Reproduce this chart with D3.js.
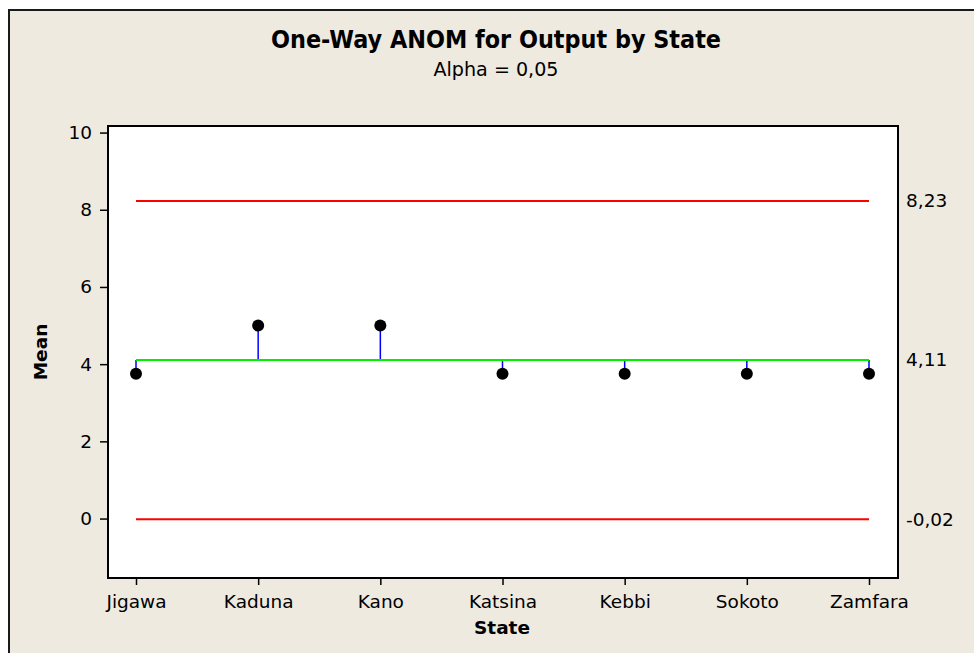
<!DOCTYPE html>
<html>
<head>
<meta charset="utf-8">
<script src="https://cdn.jsdelivr.net/npm/d3@7"></script>
<style>
  html, body { margin: 0; padding: 0; background: #fff; }
  text { font-family: "DejaVu Sans", Verdana, sans-serif; fill: #000; }
</style>
</head>
<body>
<div id="chart"></div>
<script>
const width = 974,
  height = 653;

// data
const states = ['Jigawa', 'Kaduna', 'Kano', 'Katsina', 'Kebbi', 'Sokoto', 'Zamfara'];
const means = [3.75, 5.0, 5.0, 3.75, 3.75, 3.75, 3.75];
const limitValues = [8.23, 4.11, -0.02]; // upper decision limit, centre, lower decision limit
const limitLabels = ['8,23', '4,11', '-0,02'];
const yTicks = [0, 2, 4, 6, 8, 10];

const plot = { left: 108, right: 898, top: 126, bottom: 578 };

const svg = d3
  .select('#chart')
  .append('svg')
  .attr('width', width)
  .attr('height', height);

// outer frame
svg
  .append('rect')
  .attr('x', 9)
  .attr('y', 10)
  .attr('width', width + 20)
  .attr('height', height + 20)
  .attr('fill', '#eeeae0')
  .attr('stroke', '#1a1a1a')
  .attr('stroke-width', 2);

svg
  .append('rect')
  .attr('x', plot.left)
  .attr('y', plot.top)
  .attr('width', plot.right - plot.left)
  .attr('height', plot.bottom - plot.top)
  .attr('fill', '#fff');

const x = d3
  .scalePoint()
  .domain(states)
  .range([136, 869]);

const y = d3
  .scaleLinear()
  .domain([-1.54, 10.17])
  .range([plot.bottom, plot.top]);

const center = limitValues[1];
const lineColor = ['#ff0000', '#00f000', '#ff0000'];

// blue stems from centre line to each mean
svg
  .append('g')
  .selectAll('line')
  .data(means)
  .join('line')
  .attr('x1', (d, i) => x(states[i]))
  .attr('x2', (d, i) => x(states[i]))
  .attr('y1', y(center))
  .attr('y2', d => y(d))
  .attr('stroke', '#0000ff')
  .attr('stroke-width', 1.5);

// limit lines
svg
  .append('g')
  .selectAll('line')
  .data(limitValues)
  .join('line')
  .attr('x1', x(states[0]))
  .attr('x2', x(states[states.length - 1]))
  .attr('y1', d => y(d))
  .attr('y2', d => y(d))
  .attr('stroke', (d, i) => lineColor[i])
  .attr('stroke-width', 2);

// mean points
svg
  .append('g')
  .selectAll('circle')
  .data(means)
  .join('circle')
  .attr('cx', (d, i) => x(states[i]))
  .attr('cy', d => y(d))
  .attr('r', 6)
  .attr('fill', '#000');

// plot border
svg
  .append('rect')
  .attr('x', plot.left)
  .attr('y', plot.top)
  .attr('width', plot.right - plot.left)
  .attr('height', plot.bottom - plot.top)
  .attr('fill', 'none')
  .attr('stroke', '#000')
  .attr('stroke-width', 2);

const yAxis = svg
  .append('g')
  .attr('transform', `translate(${plot.left},0)`)
  .call(d3.axisLeft(y).tickValues(yTicks).tickSize(8).tickPadding(8).tickSizeOuter(0));

const xAxis = svg
  .append('g')
  .attr('transform', `translate(0,${plot.bottom})`)
  .call(d3.axisBottom(x).tickSize(7).tickPadding(10).tickSizeOuter(0));

[yAxis, xAxis].forEach(a => {
  a.select('.domain').remove();
  a.selectAll('.tick line').attr('stroke', '#000').attr('stroke-width', 1.5);
  a.selectAll('.tick text')
    .attr('fill', '#000')
    .style('font-family', '"DejaVu Sans", sans-serif')
    .style('font-size', '18.5px');
});

// limit labels on the right
svg
  .append('g')
  .selectAll('text')
  .data(limitValues)
  .join('text')
  .attr('x', 906)
  .attr('y', d => y(d))
  .attr('dy', '0.35em')
  .style('font-size', '18.5px')
  .text((d, i) => limitLabels[i]);

// titles, squeezed to the reference widths
function fitWidth(sel, w) {
  if (sel.node().getComputedTextLength() > w) {
    sel.attr('textLength', w).attr('lengthAdjust', 'spacingAndGlyphs');
  }
}

const title = svg
  .append('text')
  .attr('x', 496)
  .attr('y', 48)
  .attr('text-anchor', 'middle')
  .style('font-size', '25px')
  .style('font-weight', 'bold')
  .text('One-Way ANOM for Output by State');
fitWidth(title, 450);

const subtitle = svg
  .append('text')
  .attr('x', 496)
  .attr('y', 76)
  .attr('text-anchor', 'middle')
  .style('font-size', '20px')
  .text('Alpha = 0,05');
fitWidth(subtitle, 125);

// axis titles
svg
  .append('text')
  .attr('x', 502)
  .attr('y', 634)
  .attr('text-anchor', 'middle')
  .style('font-size', '18.5px')
  .style('font-weight', 'bold')
  .text('State');

svg
  .append('text')
  .attr('transform', 'translate(47,352) rotate(-90)')
  .attr('text-anchor', 'middle')
  .style('font-size', '18.5px')
  .style('font-weight', 'bold')
  .text('Mean');
</script>
</body>
</html>
